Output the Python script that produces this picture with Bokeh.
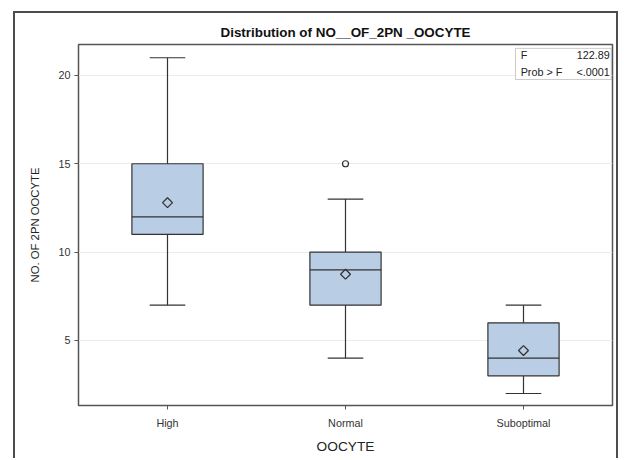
import math
from bokeh.plotting import figure
from bokeh.models import FixedTicker, Label, BoxAnnotation, FactorRange, Range1d
from bokeh.embed import file_html
from bokeh.resources import INLINE

categories = ["High", "Normal", "Suboptimal"]
q_min = [7, 4, 2]
q1 = [11, 7, 3]
median = [12, 9, 4]
q3 = [15, 10, 6]
q_max = [21, 13, 7]
means = [12.8, 8.75, 4.43]
outlier_cat = ["Normal"]
outlier_val = [15]
y_ticks = [5, 10, 15, 20]
f_value = "122.89"
p_value = "<.0001"

FONT = "Liberation Sans"
DARK = "#333333"
BOXFILL = "#b9cde5"

p = figure(x_range=FactorRange(*categories, range_padding=0), y_range=Range1d(1.32, 21.75),
           width=605, height=447, output_backend="svg", toolbar_location=None,
           title="Distribution of NO__OF_2PN _OOCYTE",
           min_border_left=63, min_border_right=8, min_border_top=31, min_border_bottom=55)
p.styles = {"margin-left": "13px", "margin-top": "11px",
            "border-left": "2px solid #4d4d4d", "border-top": "2px solid #4d4d4d",
            "border-right": "2px solid #4d4d4d"}

p.title.align = "center"
p.title.text_font = FONT
p.title.text_font_size = "13.4px"
p.title.text_font_style = "bold"
p.title.text_color = "#111111"

p.outline_line_color = "#555555"
p.outline_line_width = 1.5

# boxes
p.vbar(x=categories, bottom=q1, top=q3, width=0.4, fill_color=BOXFILL,
       line_color=DARK, line_width=1.2)
# median lines
p.segment(x0=[(c, -0.2) for c in categories], x1=[(c, 0.2) for c in categories],
          y0=median, y1=median, line_color=DARK, line_width=1.2)
# whiskers
p.segment(x0=categories, x1=categories, y0=q3, y1=q_max, line_color=DARK, line_width=1.2)
p.segment(x0=categories, x1=categories, y0=q1, y1=q_min, line_color=DARK, line_width=1.2)
# caps
p.segment(x0=[(c, -0.1) for c in categories], x1=[(c, 0.1) for c in categories],
          y0=q_max, y1=q_max, line_color=DARK, line_width=1.2)
p.segment(x0=[(c, -0.1) for c in categories], x1=[(c, 0.1) for c in categories],
          y0=q_min, y1=q_min, line_color=DARK, line_width=1.2)
# means (diamond = square rotated 45 degrees)
p.scatter(x=categories, y=means, marker="square", angle=math.pi / 4, size=7,
          fill_color=None, line_color=DARK, line_width=1.3)
# outliers
p.scatter(x=outlier_cat, y=outlier_val, marker="circle", size=6, fill_color=None,
          line_color=DARK, line_width=1.2)

# stats inset
p.add_layout(BoxAnnotation(left=2.455, right=2.993, bottom=19.77, top=21.53,
                           fill_color="white", fill_alpha=1, line_color="#555555", line_width=1))
for txt, x, y, align in [("F", 2.484, 21.13, "left"), (f_value, 2.985, 21.13, "right"),
                         ("Prob > F", 2.484, 20.17, "left"), (p_value, 2.985, 20.17, "right")]:
    p.add_layout(Label(x=x, y=y, text=txt, text_align=align, text_baseline="middle",
                       text_font=FONT, text_font_size="10.8px", text_color="#222222"))

p.yaxis.ticker = FixedTicker(ticks=y_ticks)
p.ygrid.ticker = FixedTicker(ticks=y_ticks)
p.xgrid.grid_line_color = None
p.ygrid.grid_line_color = "#ebebeb"
p.ygrid.grid_line_width = 1

for ax in (p.xaxis, p.yaxis):
    ax.major_label_text_font = FONT
    ax.major_label_text_font_size = "10.8px"
    ax.major_label_text_color = "#333333"
    ax.axis_label_text_font = FONT
    ax.axis_label_text_font_style = "normal"
    ax.axis_label_text_color = "#222222"
    ax.axis_line_color = "#555555"
    ax.major_tick_line_color = "#555555"
    ax.major_tick_out = 4
    ax.major_tick_in = 0
    ax.minor_tick_line_color = None

p.yaxis.axis_label = "NO. OF 2PN OOCYTE"
p.xaxis.axis_label = "OOCYTE"
p.yaxis.axis_label_text_font_size = "11.3px"
p.xaxis.axis_label_text_font_size = "13.7px"
p.xaxis.major_label_standoff = 7
p.yaxis.major_label_standoff = 4
p.xaxis.axis_label_standoff = 7
p.yaxis.axis_label_standoff = 14

open("out.html", "w").write(file_html(p, INLINE))
